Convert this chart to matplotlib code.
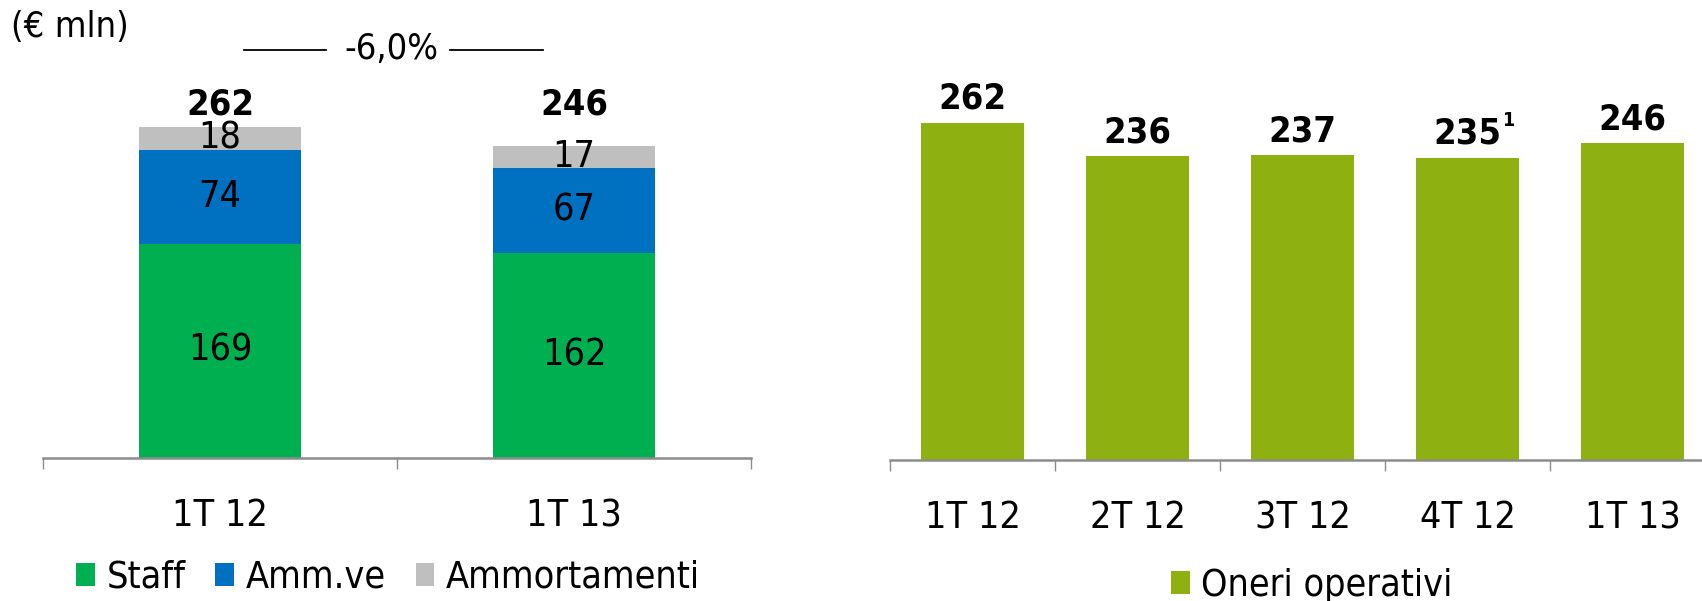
import matplotlib
matplotlib.use("Agg")
import matplotlib.pyplot as plt
from matplotlib.ticker import FixedLocator

plt.rcParams['font.family'] = ['DejaVu Sans']
plt.rcParams['font.stretch'] = 'condensed'

# left panel: breakdown of operating costs
left_cats = ['1T 12', '1T 13']
staff = [169, 162]
amm_ve = [74, 67]
ammort = [18, 17]
left_totals = [262, 246]
change_label = '-6,0%'

# right panel: quarterly operating costs
right_cats = ['1T 12', '2T 12', '3T 12', '4T 12', '1T 13']
oneri = [262, 236, 237, 235, 246]
oneri_notes = ['', '', '', '1', '']

c_staff = '#00AF50'
c_amm = '#0070C0'
c_ammort = '#BFBFBF'
c_oneri = '#8EB111'
spine_col = '#8C8C8C'

fig = plt.figure(figsize=(17.02, 6.01), dpi=100, facecolor='white')


def style_axis(ax, n):
    for s in ['top', 'right', 'left']:
        ax.spines[s].set_visible(False)
    ax.spines['bottom'].set_color(spine_col)
    ax.spines['bottom'].set_linewidth(1.8)
    ax.set_yticks([])
    ax.set_xlim(-0.5, n - 0.5)
    ax.set_xticks(range(n))
    ax.xaxis.set_minor_locator(FixedLocator([i - 0.5 for i in range(n + 1)]))
    ax.tick_params(axis='x', which='major', length=0, pad=29, labelsize=27)
    ax.tick_params(axis='x', which='minor', length=8, width=1, color=spine_col)


# ---- left chart
ax1 = fig.add_axes([43 / 1702, 143 / 601, 708 / 1702, 380 / 601])
ax1.set_facecolor('none')
x = range(len(left_cats))
w = 0.455
ax1.bar(x, staff, w, color=c_staff, label='Staff')
ax1.bar(x, amm_ve, w, bottom=staff, color=c_amm, label='Amm.ve')
bott = [a + b for a, b in zip(staff, amm_ve)]
ax1.bar(x, ammort, w, bottom=bott, color=c_ammort, label='Ammortamenti')
ax1.set_ylim(0, 300)
style_axis(ax1, len(left_cats))
ax1.set_xticklabels(left_cats)

# totals all sit on one line, above the tallest bar
top_line = max(left_totals)
for i in x:
    ax1.text(i, staff[i] / 2, str(staff[i]), ha='center', va='center', fontsize=27)
    ax1.text(i, staff[i] + amm_ve[i] / 2, str(amm_ve[i]), ha='center', va='center', fontsize=27)
    ax1.text(i, bott[i] + ammort[i] / 2, str(ammort[i]), ha='center', va='center', fontsize=27)
    ax1.annotate(str(left_totals[i]), (i, top_line), xytext=(0, 3),
                 textcoords='offset points', ha='center', va='bottom',
                 fontsize=26, fontweight='bold')

# ---- right chart
ax2 = fig.add_axes([890 / 1702, 141 / 601, 825 / 1702, 386 / 601])
ax2.set_facecolor('none')
xr = range(len(right_cats))
ax2.bar(xr, oneri, 0.62, color=c_oneri, label='Oneri operativi')
ax2.set_ylim(0, 300)
style_axis(ax2, len(right_cats))
ax2.set_xticklabels(right_cats)
for i in xr:
    ax2.annotate(str(oneri[i]), (i, oneri[i]), xytext=(0, 5),
                 textcoords='offset points', ha='center', va='bottom',
                 fontsize=26, fontweight='bold')
    if oneri_notes[i]:
        ax2.annotate(oneri_notes[i], (i, oneri[i]), xytext=(25, 20),
                     textcoords='offset points', ha='left', va='bottom',
                     fontsize=14, fontweight='bold')

# ---- header texts
fig.text(11 / 1702, 1 - 27 / 601, '(€ mln)', ha='left', va='center', fontsize=26)
fig.text(391 / 1702, 1 - 49 / 601, change_label, ha='center', va='center', fontsize=26)
fig.add_artist(plt.Line2D([244 / 1702, 326 / 1702], [1 - 50 / 601] * 2, color='black', lw=1.3))
fig.add_artist(plt.Line2D([450 / 1702, 543 / 1702], [1 - 50 / 601] * 2, color='black', lw=1.3))

# ---- legends
h1, l1 = ax1.get_legend_handles_labels()
fig.legend(h1, l1, loc='center', bbox_to_anchor=(388 / 1702, 23 / 601), ncol=3,
           frameon=False, fontsize=27, handlelength=0.5, handleheight=0.55,
           handletextpad=0.3, columnspacing=0.8, borderaxespad=0)
h2, l2 = ax2.get_legend_handles_labels()
fig.legend(h2, l2, loc='center', bbox_to_anchor=(1312 / 1702, 15 / 601), ncol=1,
           frameon=False, fontsize=27, handlelength=0.5, handleheight=0.55,
           handletextpad=0.3, borderaxespad=0)

fig.savefig('out.png', dpi=100, facecolor='white')
